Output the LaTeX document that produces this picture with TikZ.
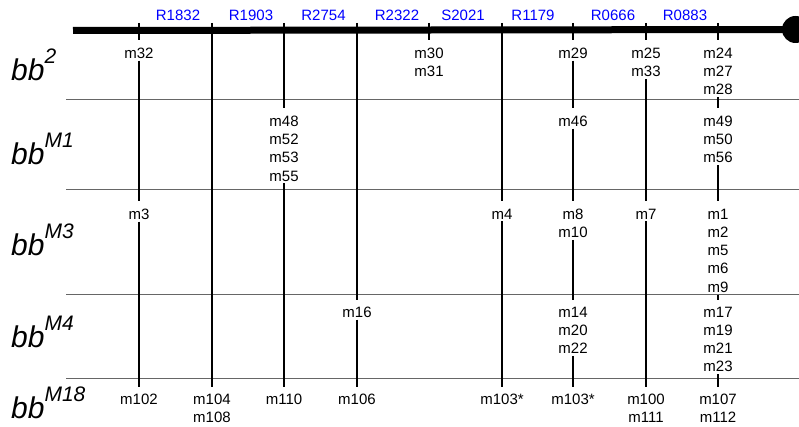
\documentclass[tikz,border=0pt]{standalone}
\usepackage{fontspec}
\setmainfont{Liberation Sans}
\begin{document}
\begin{tikzpicture}[x=1pt,y=-1pt,
  lbl/.style={font=\fontsize{15}{18.3}\selectfont, align=center, inner sep=0pt, anchor=north},
  vline/.style={line width=2.6pt},
  sepline/.style={line width=0.9pt, draw=black!60},
  rlab/.style={font=\fontsize{15}{15}\selectfont, text=blue, inner sep=0pt},
  rowlab/.style={font=\fontsize{30}{30}\selectfont\itshape, anchor=base west, inner sep=0pt},
  bar/.style={line width=7pt}
]
\useasboundingbox (0,0) rectangle (799,427);
\newcommand{\supx}[1]{\raisebox{17pt}{\fontsize{21}{21}\selectfont #1}}

% separators
\foreach \yy/\nm in {99/1,189/2,294/3,378/4}{
  \coordinate (sl\nm) at (66,\yy);
  \coordinate (sr\nm) at (799,\yy);
  \draw[sepline] (sl\nm) -- (sr\nm);
}

% top bar
\coordinate (barL) at (73,30.5);
\node[circle, fill=black, inner sep=0pt, minimum size=27pt] (dot) at (795.5,29.5) {};
\draw[bar] (barL) -- (dot.center);

% region labels
\node[rlab] (r1) at (178,15.5) {R1832};
\node[rlab] (r2) at (251,15.5) {R1903};
\node[rlab] (r3) at (323.5,15.5) {R2754};
\node[rlab] (r4) at (397,15.5) {R2322};
\node[rlab] (r5) at (463,15.5) {S2021};
\node[rlab] (r6) at (533,15.5) {R1179};
\node[rlab] (r7) at (613,15.5) {R0666};
\node[rlab] (r8) at (685,15.5) {R0883};

% row labels
\node[rowlab] (row1) at (11,81) {bb\supx{2}};
\node[rowlab] (row2) at (11,165) {bb\supx{M1}};
\node[rowlab] (row3) at (11,255) {bb\supx{M3}};
\node[rowlab] (row4) at (11,347) {bb\supx{M4}};
\node[rowlab] (row5) at (11,418) {bb\supx{M18}};

% column tops
\foreach \xx/\nm in {139/A,212/B,284/C,357/D,429/E,502/F,573/G,646/H,718/I}{
  \coordinate (t\nm) at (\xx,23);
}

% marker labels (anchor north = first line center - 5)
\node[lbl] (a1) at (139,47.5) {m32};
\node[lbl] (a2) at (139,208.5) {m3};
\node[lbl] (a3) at (139,393.5) {m102};

\node[lbl] (b1) at (212,393.5) {m104\\m108};

\node[lbl] (c1) at (284,115.5) {m48\\m52\\m53\\m55};
\node[lbl] (c2) at (284,393.5) {m110};

\node[lbl] (d1) at (357,306.5) {m16};
\node[lbl] (d2) at (357,393.5) {m106};

\node[lbl] (e1) at (429,47.5) {m30\\m31};

\node[lbl] (f1) at (502,208.5) {m4};
\node[lbl] (f2) at (502,393.5) {m103*};

\node[lbl] (g1) at (573,47.5) {m29};
\node[lbl] (g2) at (573,115.5) {m46};
\node[lbl] (g3) at (573,208.5) {m8\\m10};
\node[lbl] (g4) at (573,306.5) {m14\\m20\\m22};
\node[lbl] (g5) at (573,393.5) {m103*};

\node[lbl] (h1) at (646,47.5) {m25\\m33};
\node[lbl] (h2) at (646,208.5) {m7};
\node[lbl] (h3) at (646,393.5) {m100\\m111};

\node[lbl] (i1) at (718,47.5) {m24\\m27\\m28};
\node[lbl] (i2) at (718,115.5) {m49\\m50\\m56};
\node[lbl] (i3) at (718,208.5) {m1\\m2\\m5\\m6\\m9};
\node[lbl] (i4) at (718,306.5) {m17\\m19\\m21\\m23};
\node[lbl] (i5) at (718,393.5) {m107\\m112};

% vertical connectors
\draw[vline] (tA) -- ([yshift=7pt]a1.north);
\draw[vline] ([yshift=-2pt]a1.south) -- ([yshift=7pt]a2.north);
\draw[vline] ([yshift=-2pt]a2.south) -- ([yshift=7pt]a3.north);

\draw[vline] (tB) -- ([yshift=7pt]b1.north);

\draw[vline] (tC) -- ([yshift=7pt]c1.north);
\draw[vline] ([yshift=-2pt]c1.south) -- ([yshift=7pt]c2.north);

\draw[vline] (tD) -- ([yshift=7pt]d1.north);
\draw[vline] ([yshift=-2pt]d1.south) -- ([yshift=7pt]d2.north);

\draw[vline] (tE) -- ([yshift=7pt]e1.north);

\draw[vline] (tF) -- ([yshift=7pt]f1.north);
\draw[vline] ([yshift=-2pt]f1.south) -- ([yshift=7pt]f2.north);

\draw[vline] (tG) -- ([yshift=7pt]g1.north);
\draw[vline] ([yshift=-2pt]g1.south) -- ([yshift=7pt]g2.north);
\draw[vline] ([yshift=-2pt]g2.south) -- ([yshift=7pt]g3.north);
\draw[vline] ([yshift=-2pt]g3.south) -- ([yshift=7pt]g4.north);
\draw[vline] ([yshift=-2pt]g4.south) -- ([yshift=7pt]g5.north);

\draw[vline] (tH) -- ([yshift=7pt]h1.north);
\draw[vline] ([yshift=-2pt]h1.south) -- ([yshift=7pt]h2.north);
\draw[vline] ([yshift=-2pt]h2.south) -- ([yshift=7pt]h3.north);

\draw[vline] (tI) -- ([yshift=7pt]i1.north);
\draw[vline] ([yshift=-2pt]i1.south) -- ([yshift=7pt]i2.north);
\draw[vline] ([yshift=-2pt]i2.south) -- ([yshift=7pt]i3.north);
\draw[vline] ([yshift=-2pt]i3.south) -- ([yshift=7pt]i4.north);
\draw[vline] ([yshift=-2pt]i4.south) -- ([yshift=7pt]i5.north);
\end{tikzpicture}
\end{document}
